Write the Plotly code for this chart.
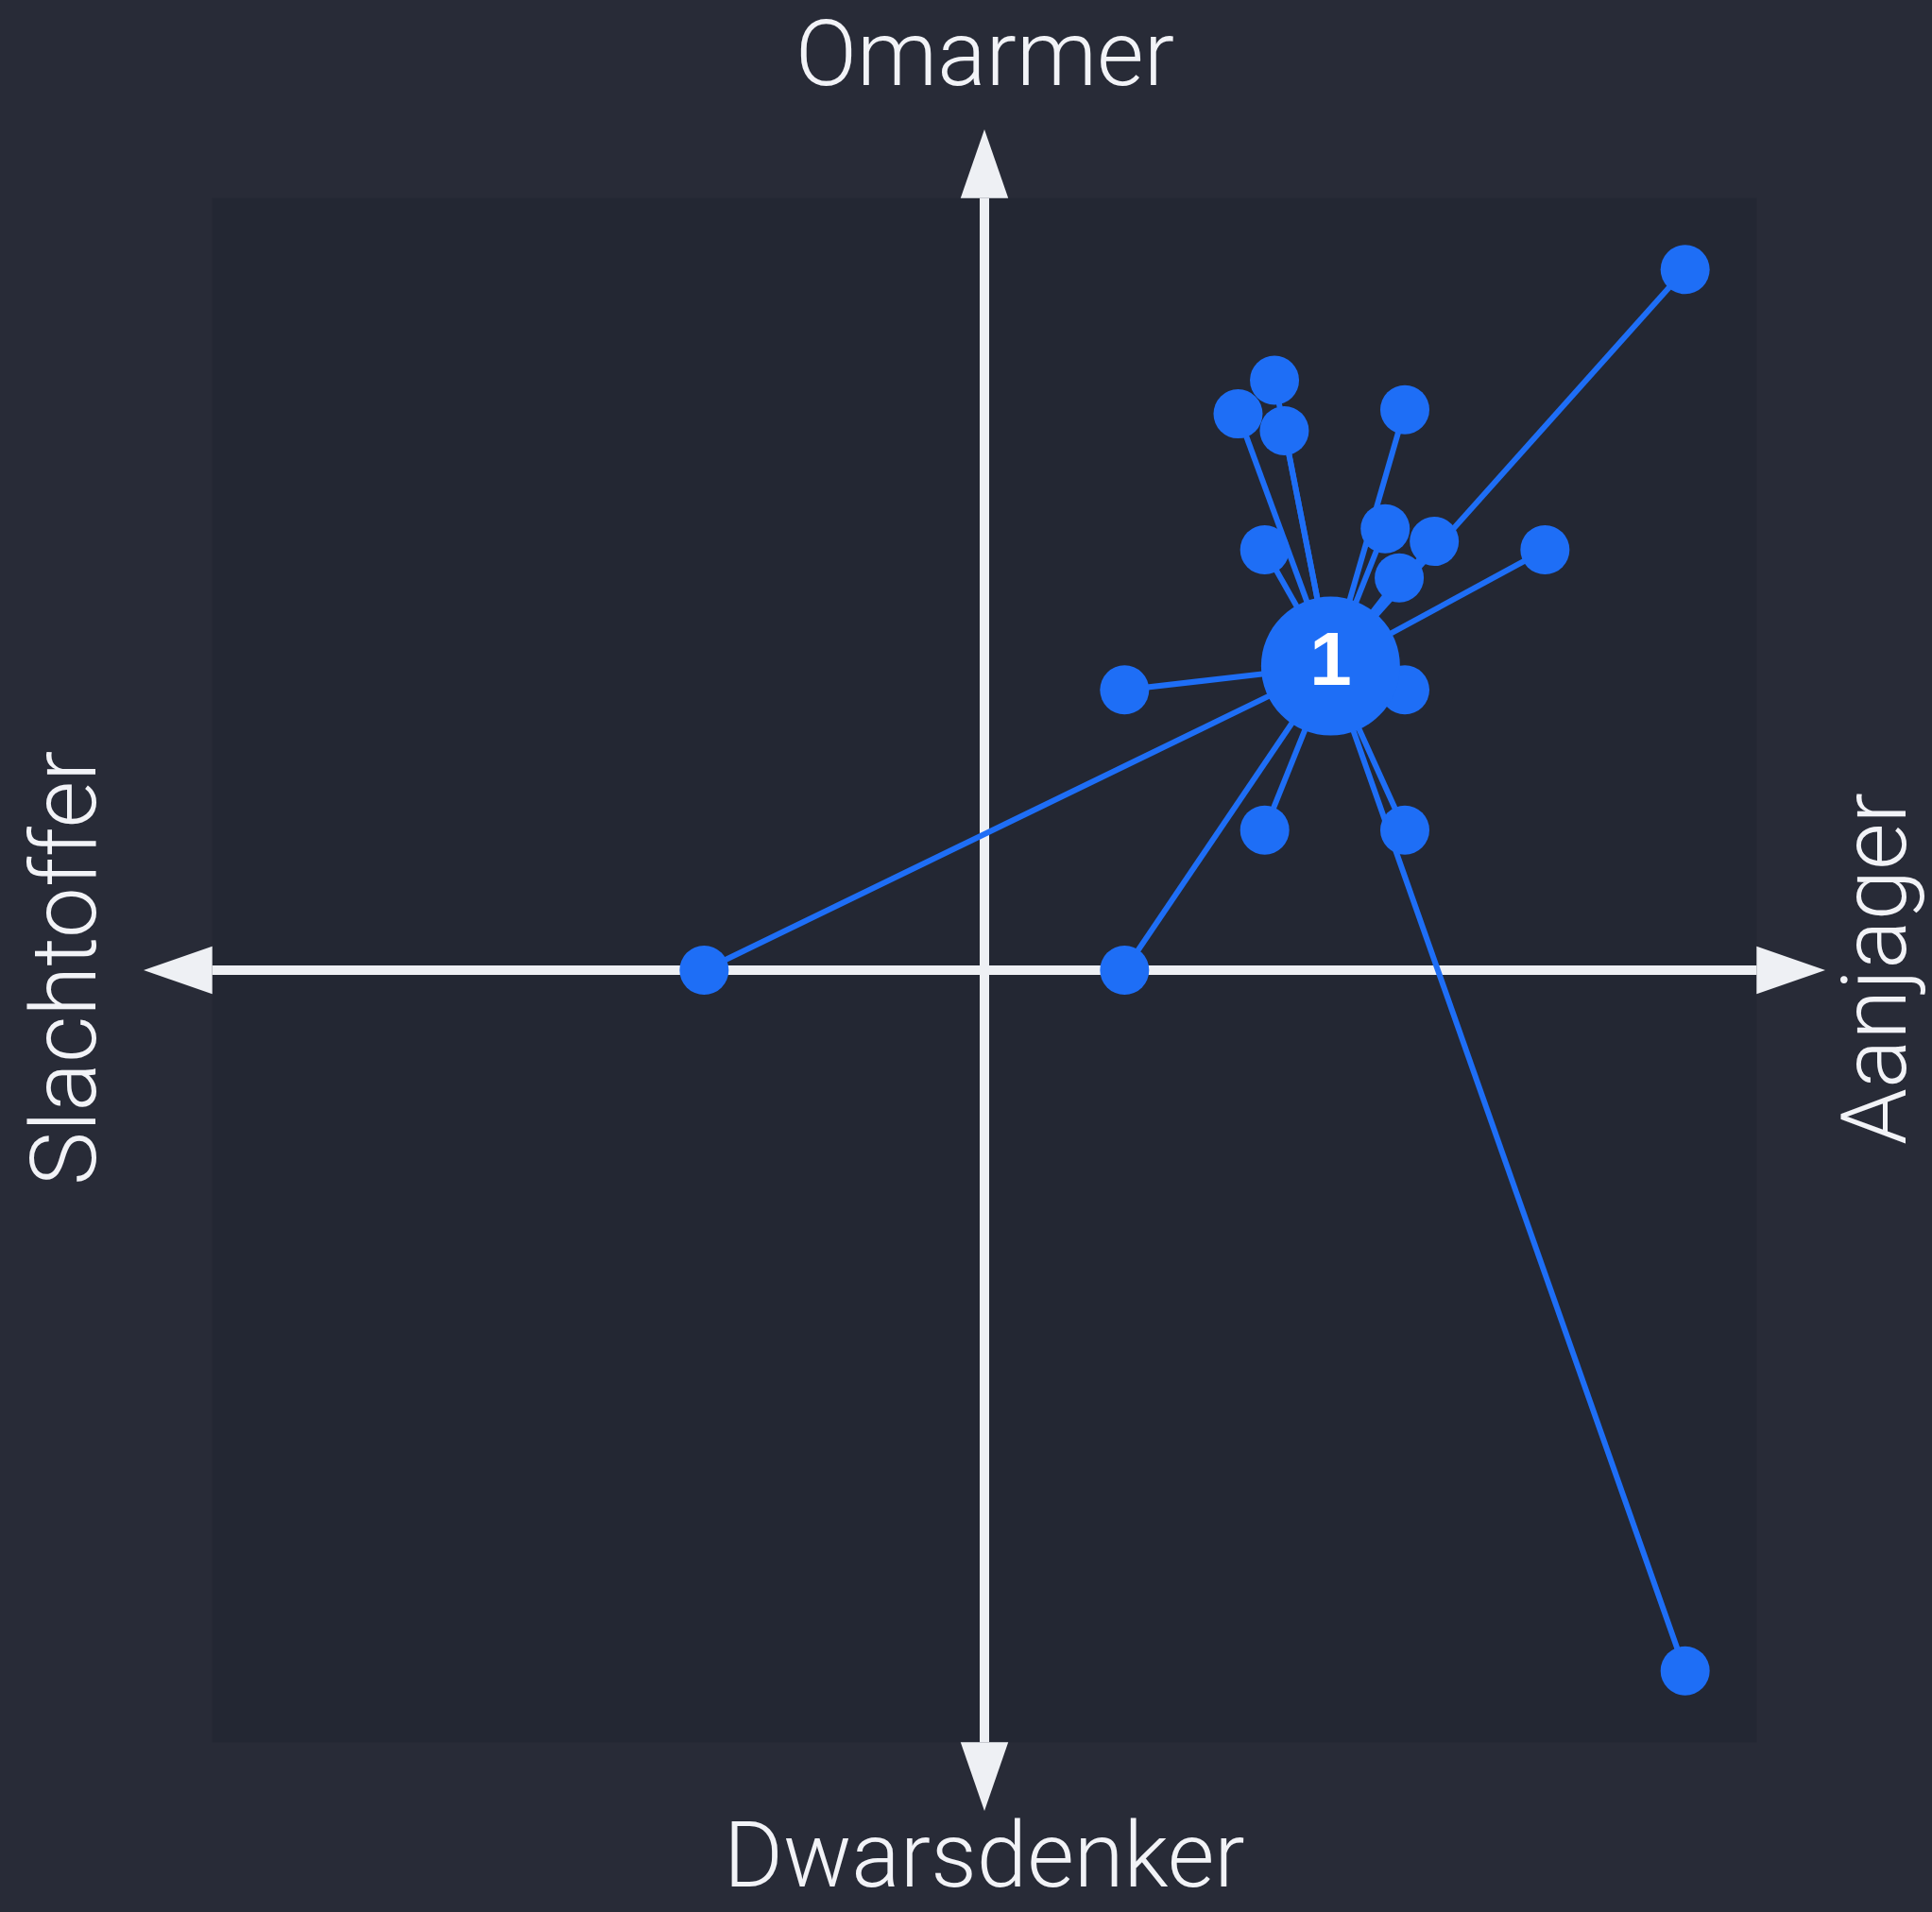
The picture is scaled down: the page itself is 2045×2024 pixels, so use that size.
import plotly.graph_objects as go

# ---- data (scale -6..6 on both axes) ----
node_x = [2.07, 1.81, 2.14, 3.0, 2.0, 2.86, 3.21, 2.96, 4.0, 1.0, 3.0, 2.0, 3.0, 5.0, -2.0, 1.0, 5.0]
node_y = [4.21, 3.97, 3.85, 4.0, 3.0, 3.15, 3.06, 2.80, 3.0, 2.0, 2.0, 1.0, 1.0, 5.0, 0.0, 0.0, -5.0]
center_x = [2.47]
center_y = [2.17]
center_label = ["1"]

axis_labels = {"top": "Omarmer", "bottom": "Dwarsdenker", "left": "Slachtoffer", "right": "Aanjager"}
axis_range = [-6, 6]

# ---- styles ----
BLUE = "#1E6EF6"
ARROW = "#EEF0F4"
OUTER_BG = "#282B37"
INNER_BG = "#232733"
TEXT = "#F2F3F7"
FONT = "Roboto"

W, H = 2045, 2024
ML, MR, MT, MB = 152, 113, 137, 107

fig = go.Figure()

# spokes from center to each node
lx, ly = [], []
for x, y in zip(node_x, node_y):
    lx += [center_x[0], x, None]
    ly += [center_y[0], y, None]
fig.add_trace(go.Scatter(x=lx, y=ly, mode="lines",
                         line=dict(color=BLUE, width=6), hoverinfo="skip", showlegend=False))

# small nodes
fig.add_trace(go.Scatter(x=node_x, y=node_y, mode="markers",
                         marker=dict(size=52, color=BLUE, line=dict(width=0)),
                         showlegend=False))

# center node
fig.add_trace(go.Scatter(x=center_x, y=center_y, mode="markers+text", text=center_label,
                         textposition="middle center",
                         textfont=dict(family="Liberation Sans", size=80, color="white", weight="bold"),
                         marker=dict(size=147, color=BLUE, line=dict(width=0)),
                         showlegend=False))

# ---- axes cross with arrowheads ----
lo, hi = axis_range
head_len = 0.49
head_hw = 0.17
shapes = []
# inner darker background region
shapes.append(dict(type="rect", xref="x", yref="y", x0=lo + head_len, x1=hi - head_len,
                   y0=lo + head_len, y1=hi - head_len, fillcolor=INNER_BG,
                   line=dict(width=0), layer="below"))
# lines
shapes.append(dict(type="line", xref="x", yref="y", x0=lo + head_len, x1=hi - head_len, y0=0, y1=0,
                   line=dict(color=ARROW, width=10), layer="below"))
shapes.append(dict(type="line", xref="x", yref="y", x0=0, x1=0, y0=lo + head_len, y1=hi - head_len,
                   line=dict(color=ARROW, width=10), layer="below"))
# arrowheads
def tri(p):
    return "M " + " L ".join(f"{a},{b}" for a, b in p) + " Z"

heads = [
    [(hi, 0), (hi - head_len, head_hw), (hi - head_len, -head_hw)],
    [(lo, 0), (lo + head_len, head_hw), (lo + head_len, -head_hw)],
    [(0, hi), (head_hw, hi - head_len), (-head_hw, hi - head_len)],
    [(0, lo), (head_hw, lo + head_len), (-head_hw, lo + head_len)],
]
for h in heads:
    shapes.append(dict(type="path", xref="x", yref="y", path=tri(h), fillcolor=ARROW,
                       line=dict(color=ARROW, width=0), layer="below"))

pw = W - ML - MR
ph = H - MT - MB

def px_to_paper_x(px):
    return (px - ML) / pw

def py_to_paper_y(py):
    return (H - MB - py) / ph

lab_font = dict(family=FONT, size=96, color=TEXT, weight=300)
annotations = [
    dict(text=axis_labels["top"], x=0.5, y=py_to_paper_y(57), xref="paper", yref="paper",
         xanchor="center", yanchor="middle", showarrow=False, font=lab_font),
    dict(text=axis_labels["bottom"], x=0.5, y=py_to_paper_y(1964), xref="paper", yref="paper",
         xanchor="center", yanchor="middle", showarrow=False, font=lab_font),
    dict(text=axis_labels["left"], x=px_to_paper_x(68), y=py_to_paper_y(1025), xref="paper", yref="paper",
         xanchor="center", yanchor="middle", showarrow=False, textangle=-90, font=lab_font),
    dict(text=axis_labels["right"], x=px_to_paper_x(1984), y=py_to_paper_y(1025), xref="paper", yref="paper",
         xanchor="center", yanchor="middle", showarrow=False, textangle=-90, font=lab_font),
]

fig.update_layout(
    width=W, height=H,
    margin=dict(l=ML, r=MR, t=MT, b=MB, pad=0),
    paper_bgcolor=OUTER_BG, plot_bgcolor=OUTER_BG,
    xaxis=dict(range=axis_range, visible=False, showgrid=False, zeroline=False, fixedrange=True),
    yaxis=dict(range=axis_range, visible=False, showgrid=False, zeroline=False, fixedrange=True),
    shapes=shapes, annotations=annotations, showlegend=False,
)

fig.write_html("out.html", config={"displayModeBar": False},
               post_script="document.body.style.margin='0';document.body.style.overflow='hidden';")
